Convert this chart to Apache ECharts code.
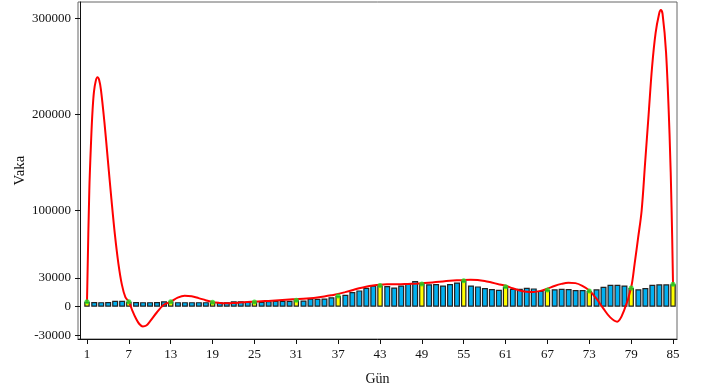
<!DOCTYPE html>
<html>
<head>
<meta charset="utf-8">
<script src="https://cdn.jsdelivr.net/npm/echarts@6/dist/echarts.min.js"></script>
<style>
  html, body { margin: 0; padding: 0; background: #fff; }
  #main { width: 702px; height: 391px; }
</style>
</head>
<body>
<div id="main"></div>
<script>
// daily cases, day 1..85
const barVals = [
  5200, 5000, 4800, 5000, 6200, 6200, 5200, 5000, 4800, 4800,
  5000, 5700, 5200, 4800, 4800, 4800, 4800, 4800, 4600, 4600,
  4600, 5600, 5600, 5200, 4900, 5200, 5800, 6200, 6200, 6200,
  6800, 6500, 8600, 8300, 8600, 9900, 11200, 12500, 15300, 17000,
  19800, 22200, 22200, 21500, 20100, 22200, 24300, 26700, 23600, 23300,
  23600, 22200, 23600, 25300, 27000, 22200, 21200, 19400, 18400, 17700,
  20800, 18800, 18800, 19800, 19100, 16500, 17400, 18100, 18800, 18400,
  17400, 17400, 16300, 18100, 20800, 22900, 22900, 22200, 19400, 18100,
  19400, 22900, 23300, 23300, 23300
];

// red fitted curve
const curveDay = [
  1, 1.33, 1.6, 1.8, 2.0, 2.25, 2.5, 2.75, 3.0, 3.5, 4.0, 4.5, 5.0, 5.5, 6.0, 6.5,
  7.0, 7.5, 8.0, 8.5, 9.0, 9.5, 10, 11, 12, 13, 14, 15, 16, 17, 18, 19, 20, 21, 22,
  23, 24, 25, 26, 27, 28, 29, 30, 31, 32, 33, 34, 35, 36, 37, 38, 39, 40, 41, 42,
  43, 44, 45, 46, 47, 48, 49, 50, 51, 52, 53, 54, 55, 56, 57, 58, 59, 60, 61, 62,
  63, 64, 65, 66, 67, 68, 69, 70, 71, 72, 73, 74, 75, 76, 77, 78, 79, 79.5, 80,
  80.5, 81, 81.5, 82, 82.5, 83, 83.25, 83.5, 84, 84.5, 84.8, 85
];
const curveVal = [
  5200, 121000, 175000, 205000, 224000, 235000, 239000, 236000, 226000, 192000,
  152000, 112000, 75000, 45000, 23000, 10000,
  5200, -4000, -12000, -18000, -20500, -19500, -15500, -6000, 2000, 5200, 9500,
  11500, 11000, 9000, 6800, 4800, 4000, 3700, 3900,
  4400, 4900, 5300, 5700, 6100, 6600, 7100, 7500, 7900, 8300, 8900, 9700, 10700,
  11900, 13300, 15200, 17200, 19200, 20900, 22100,
  22900, 23300, 23400, 23500, 23700, 24000, 24400, 25000, 25700, 26400, 27000,
  27500, 27900, 28100, 27800, 26800, 25200, 23500, 21900, 19200,
  17000, 15700, 15400, 16500, 18800, 21600, 23800, 25000, 24600, 21800, 17000,
  8700, -1700, -11100, -15600, -3500, 20000, 45000, 72000,
  100000, 150000, 200000, 250000, 285000, 305000, 309000, 305000, 265000,
  180000, 100000, 23300
];

const yTicks = [-30000, 0, 30000, 100000, 200000, 300000];
const xTicks = [1, 7, 13, 19, 25, 31, 37, 43, 49, 55, 61, 67, 73, 79, 85];

const blueData = [];
const yellowData = [];
const dots = [];
barVals.forEach((v, i) => {
  const day = i + 1;
  if (i % 6 === 0) {
    yellowData.push([day, v]);
    dots.push([day, v]);
  } else {
    blueData.push([day, v]);
  }
});
const curve = curveDay.map((d, i) => [d, curveVal[i]]);

const font = 'Liberation Serif';
const chart = echarts.init(document.getElementById('main'));
chart.setOption({
  animation: false,
  grid: {
    left: 78, right: 25, top: 2, bottom: 52,
    outerBoundsMode: 'none',
    show: true, borderColor: '#666', borderWidth: 1
  },
  xAxis: {
    type: 'value',
    min: -0.29,
    max: 85.57,
    name: 'Gün',
    nameLocation: 'middle',
    nameGap: 33,
    nameTextStyle: { fontFamily: font, fontSize: 14, color: '#111' },
    splitLine: { show: false },
    axisLine: { onZero: false, lineStyle: { color: '#111', width: 1 } },
    axisTick: { customValues: xTicks, length: 5, lineStyle: { color: '#111' } },
    axisLabel: {
      customValues: xTicks, margin: 9, fontFamily: font, fontSize: 13, color: '#111',
      formatter: v => String(v)
    }
  },
  yAxis: {
    type: 'value',
    min: -33600,
    max: 317400,
    name: 'Vaka',
    nameLocation: 'middle',
    nameGap: 50,
    nameMoveOverlap: false,
    nameRotate: 90,
    nameTextStyle: { fontFamily: font, fontSize: 15, color: '#111' },
    splitLine: { show: false },
    axisLine: { show: true, lineStyle: { color: '#111', width: 1 } },
    axisTick: { show: true, customValues: yTicks, length: 5, lineStyle: { color: '#111' } },
    axisLabel: {
      customValues: yTicks, margin: 7, fontFamily: font, fontSize: 13, color: '#111',
      formatter: v => String(v)
    }
  },
  series: [
    {
      type: 'bar',
      data: blueData,
      barWidth: 6,
      barGap: '-100%',
      itemStyle: { color: '#00b0f0', borderColor: '#222', borderWidth: 1.2 },
      z: 2
    },
    {
      type: 'bar',
      data: yellowData,
      barWidth: 5.5,
      barGap: '-100%',
      itemStyle: { color: '#ffff00', borderColor: '#222', borderWidth: 1.2 },
      z: 2
    },
    {
      type: 'line',
      data: curve,
      smooth: 0.35,
      showSymbol: false,
      lineStyle: { color: '#ff0000', width: 2 },
      z: 3
    },
    {
      type: 'scatter',
      data: dots,
      symbolSize: 5,
      itemStyle: { color: '#22dd22' },
      z: 4
    }
  ]
});
</script>
</body>
</html>
